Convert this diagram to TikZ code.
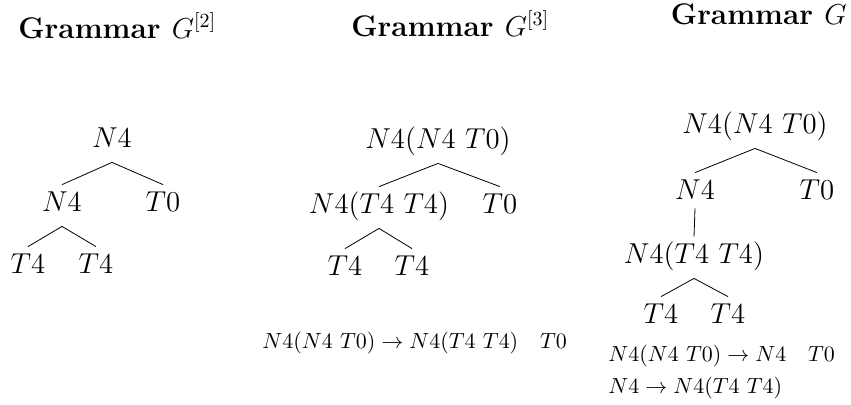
\documentclass[tikz,border=0pt]{standalone}
\usepackage{amsmath}
\begin{document}
\begin{tikzpicture}[x=0.5pt, y=-0.5pt,
    tnode/.style={font=\Large, anchor=base, inner sep=3pt,
                  text height=10pt, text depth=4.5pt},
    gtitle/.style={font=\fontsize{14.9}{18}\selectfont\bfseries,
                   anchor=base west, inner sep=0pt},
    prod/.style={font=\fontsize{10.9}{13}\selectfont,
                 anchor=base west, inner sep=0pt}]
  \useasboundingbox (0,0) rectangle (851,404);
  % Titles
  \node[gtitle] (t2) at (18,38)  {Grammar $G^{[2]}$};
  \node[gtitle] (t3) at (351,36) {Grammar $G^{[3]}$};
  \node[gtitle, anchor=base east] (tg) at (847,24) {Grammar $G$};
  % Tree of G^[2]
  \node[tnode] (a)   at (112,147) {$N4$};
  \node[tnode] (a1)  at (62,211)  {$N4$};
  \node[tnode] (a2)  at (163,211) {$T0$};
  \node[tnode] (a11) at (28,273)  {$T4$};
  \node[tnode] (a12) at (96,273)  {$T4$};
  % Tree of G^[3]
  \node[tnode] (b)   at (438,148) {$N4(N4\ T0)$};
  \node[tnode] (b1)  at (379,213) {$N4(T4\ T4)$};
  \node[tnode] (b2)  at (500,213) {$T0$};
  \node[tnode] (b11) at (345,275) {$T4$};
  \node[tnode] (b12) at (412,275) {$T4$};
  % Tree of G
  \node[tnode] (c)    at (755,133) {$N4(N4\ T0)$};
  \node[tnode, text depth=1.5pt] (c1) at (695,199) {$N4$};
  \node[tnode] (c2)   at (817,199) {$T0$};
  \node[tnode] (c11)  at (694,263) {$N4(T4\ T4)$};
  \node[tnode] (c111) at (661,323) {$T4$};
  \node[tnode] (c112) at (728,323) {$T4$};
  % Edges
  \foreach \p/\c in {a/a1, a/a2, a1/a11, a1/a12,
                     b/b1, b/b2, b1/b11, b1/b12,
                     c/c1, c/c2, c1/c11, c11/c111, c11/c112} {
    \draw (\p.south) -- (\c.north);
  }
  % Rules
  \node[prod] (r3)  at (262,348) {$N4(N4\ T0) \rightarrow N4(T4\ T4)\quad T0$};
  \node[prod] (rg1) at (608,361) {$N4(N4\ T0) \rightarrow N4\quad T0$};
  \node[prod] (rg2) at (608,393) {$N4 \rightarrow N4(T4\ T4)$};
\end{tikzpicture}
\end{document}
